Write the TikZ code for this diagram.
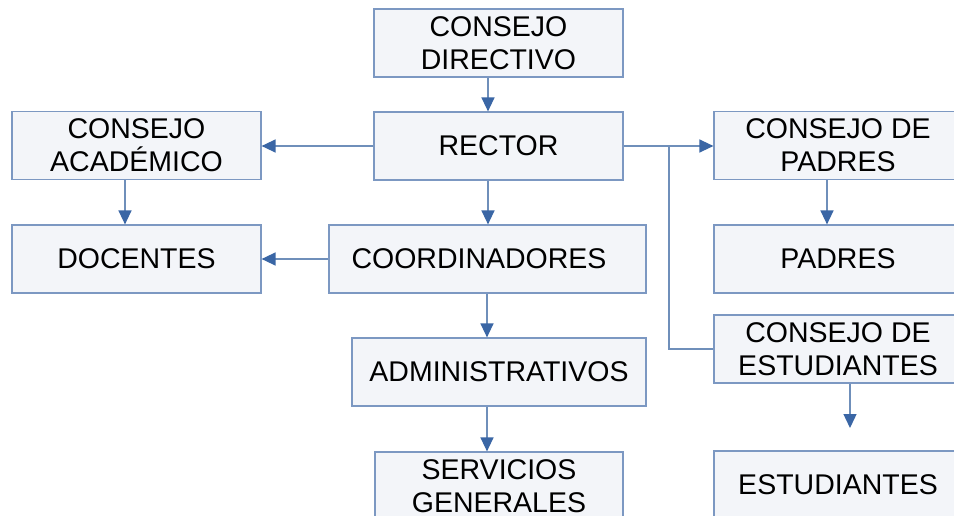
\documentclass[tikz,border=0pt]{standalone}
\usepackage{fontspec}
\setmainfont{Liberation Sans}
\usetikzlibrary{arrows.meta}
\definecolor{boxfill}{HTML}{F3F5F9}
\definecolor{boxline}{HTML}{7C98C2}
\definecolor{conn}{HTML}{6F8FBA}
\definecolor{tipc}{HTML}{3A66A5}
\tikzset{
  box/.style={draw=boxline, fill=boxfill, line width=1.2pt, inner sep=0pt,
    minimum width=249pt, minimum height=68pt, align=center,
    font=\fontsize{28.5}{33}\selectfont, text=black},
  lbl/.style={inner sep=0pt, font=\fontsize{28.5}{33}\selectfont, text=black},
  conline/.style={draw=conn, line width=1.4pt},
  arr/.style={conline, -{Triangle[width=13pt,length=14pt,color=tipc]}}
}
\begin{document}
\begin{tikzpicture}[x=1pt,y=-1pt]
\useasboundingbox (0,0) rectangle (954,516);
\clip (0,0) rectangle (954,516);
\fill[white] (0,0) rectangle (954,516);
\node[box] (dir) at (498.5,43) {CONSEJO\\DIRECTIVO};
\node[box] (rector) at (498.5,146) {RECTOR};
\node[box] (acad) at (136.5,145.5) {CONSEJO\\ACADÉMICO};
\node[box] (doc) at (136.5,259) {DOCENTES};
\node[box, minimum width=317pt] (coord) at (487.5,259) {};
\node[lbl] (coordt) at (479,259) {COORDINADORES};
\node[box, minimum width=294pt] (admin) at (499,372) {ADMINISTRATIVOS};
\node[box, minimum width=248pt] (serv) at (499,486) {SERVICIOS\\GENERALES};
\node[box, minimum width=248pt] (cpad) at (838,145.5) {CONSEJO DE\\PADRES};
\node[box, minimum width=248pt] (pad) at (838,259) {PADRES};
\node[box, minimum width=248pt] (cest) at (838,349) {CONSEJO DE\\ESTUDIANTES};
\node[box, minimum width=248pt] (est) at (838,485) {ESTUDIANTES};
\coordinate (xa) at (488,0);
\coordinate (xb) at (487,0);
\coordinate (xc) at (125,0);
\coordinate (xd) at (827,0);
\coordinate (xe) at (850,0);
\coordinate (br) at (669,146);
\coordinate (esttip) at (850,428);
\draw[arr] (dir.south -| xa) -- (rector.north -| xa);
\draw[arr] (rector.south -| xa) -- (coord.north -| xa);
\draw[arr] (rector.west) -- (acad.east |- rector.west);
\draw[arr] (acad.south -| xc) -- (doc.north -| xc);
\draw[arr] (coord.west) -- (doc.east |- coord.west);
\draw[arr] (coord.south -| xb) -- (admin.north -| xb);
\draw[arr] (admin.south -| xb) -- (serv.north -| xb);
\draw[arr] (rector.east) -- (cpad.west |- rector.east);
\draw[conline] (br) -- (br |- cest.west) -- (cest.west);
\draw[arr] (cpad.south -| xd) -- (pad.north -| xd);
\draw[arr] (cest.south -| xe) -- (esttip);
\end{tikzpicture}
\end{document}
